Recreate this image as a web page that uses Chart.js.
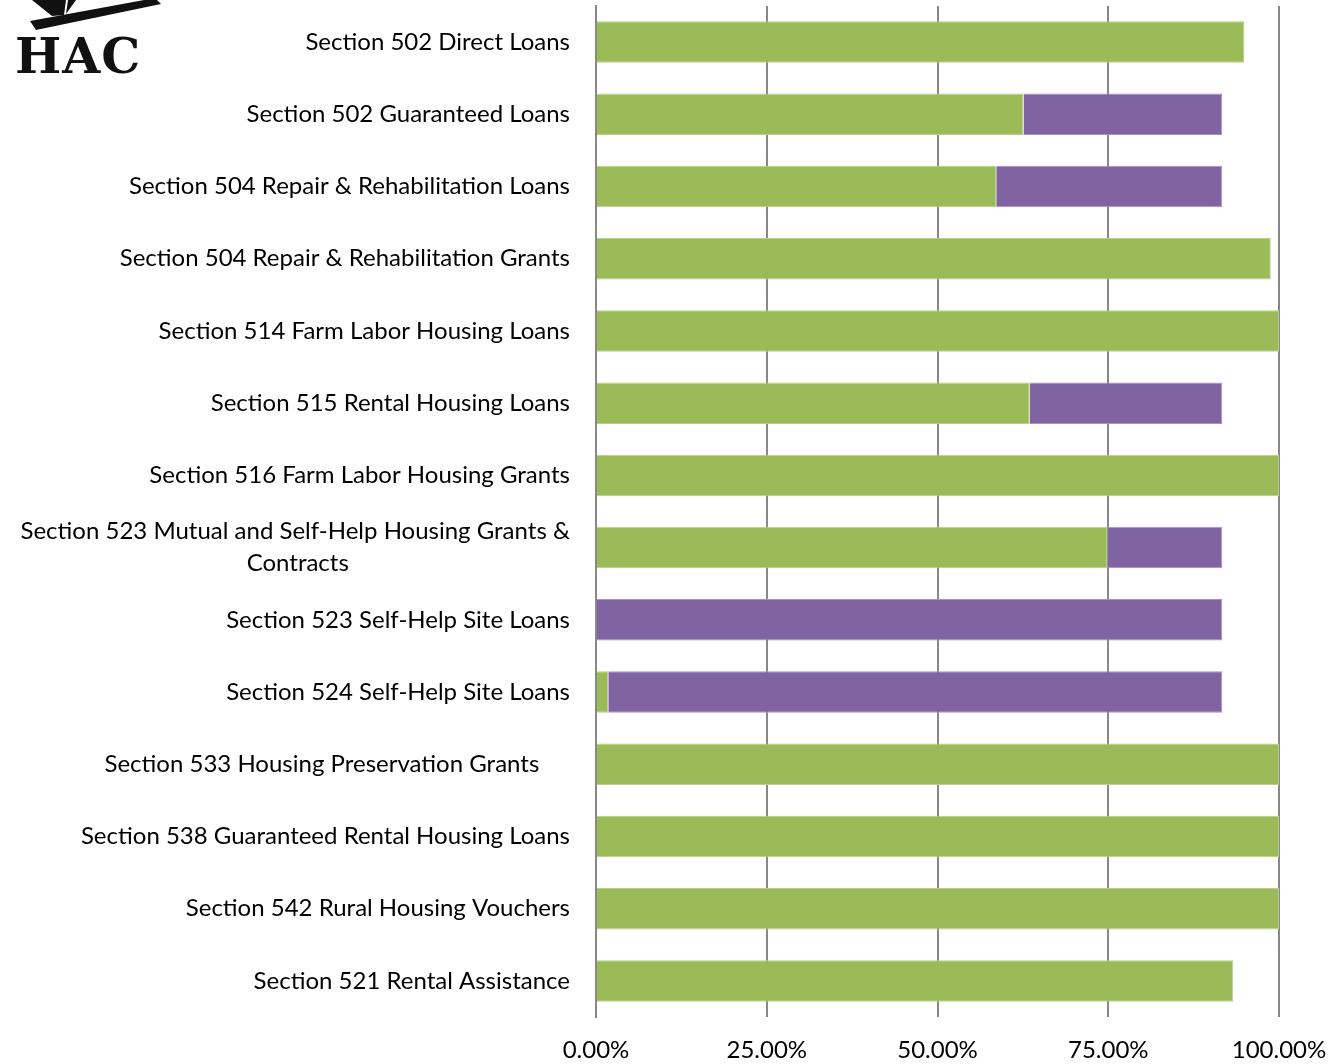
<!DOCTYPE html>
<html>
<head>
<meta charset="utf-8">
<script src="https://cdn.jsdelivr.net/npm/chart.js@4/dist/chart.umd.min.js"></script>
<style>
  html, body { margin: 0; padding: 0; background: #fff; }
  #wrap { position: relative; width: 1329px; height: 1064px; }
  #logo { position: absolute; left: 0; top: 0; width: 215px; height: 92px; }
  #logo span {
    position: absolute; left: 15px; top: 27px;
    font-family: "DejaVu Serif"; font-weight: bold; font-size: 49px; letter-spacing: 1px;
    color: #111;
  }
</style>
</head>
<body>
<div id="wrap">
  <canvas id="chart" width="1329" height="1064"></canvas>
  <div id="logo">
    <svg width="215" height="40" style="position:absolute;left:0;top:0">
      <path d="M30 21 L155 -2 L161 4 L36 30 Z" fill="#111"/>
      <path d="M32 0 L66 0 L64 15 L52 16 Z" fill="#111"/>
      <path d="M68 0 L76 0 L66 14 Z" fill="#111"/>
    </svg>
    <span>HAC</span>
  </div>
</div>
<script>
const categories = [
  'Section 502 Direct Loans',
  'Section 502 Guaranteed Loans',
  'Section 504 Repair & Rehabilitation Loans',
  'Section 504 Repair & Rehabilitation Grants',
  'Section 514 Farm Labor Housing Loans',
  'Section 515 Rental Housing Loans',
  'Section 516 Farm Labor Housing Grants',
  ['Section 523 Mutual and Self-Help Housing Grants &', 'Contracts'],
  'Section 523 Self-Help Site Loans',
  'Section 524 Self-Help Site Loans',
  'Section 533 Housing Preservation Grants',
  'Section 538 Guaranteed Rental Housing Loans',
  'Section 542 Rural Housing Vouchers',
  'Section 521 Rental Assistance'
]
const greenValues = [94.9, 62.6, 58.6, 98.8, 100, 63.5, 100, 74.9, 0, 1.8, 100, 100, 100, 93.3]
const purpleValues = [0, 29.1, 33.1, 0, 0, 28.2, 0, 16.8, 91.7, 89.9, 0, 0, 0, 0]
const xTicks = [0, 25, 50, 75, 100]

const labelFont = { family: 'Lato', size: 24 }

// pad labels with spaces so lines line up like the original
const mctx = document.createElement('canvas').getContext('2d')
mctx.font = labelFont.size + 'px ' + labelFont.family
const spaceW = mctx.measureText(' ').width
const padRight = (s, px) => s + ' '.repeat(Math.max(0, Math.round(px / spaceW)))
const shownLabels = categories.map(c => {
  if (Array.isArray(c)) {
    const w0 = mctx.measureText(c[0]).width
    const w1 = mctx.measureText(c[1]).width
    return [c[0], padRight(c[1], (w0 - w1) / 2)]
  }
  if (c.startsWith('Section 533')) return padRight(c, 30)
  return c
})

new Chart(document.getElementById('chart'), {
  type: 'bar',
  data: {
    labels: shownLabels,
    datasets: [
      {
        data: greenValues,
        backgroundColor: '#9bbb59',
        borderColor: '#b9d08a',
        borderWidth: 1,
        categoryPercentage: 1,
        barPercentage: 0.575
      },
      {
        data: purpleValues,
        backgroundColor: '#8064a2',
        borderColor: '#a791c0',
        borderWidth: 1,
        categoryPercentage: 1,
        barPercentage: 0.575
      }
    ]
  },
  options: {
    indexAxis: 'y',
    responsive: false,
    animation: false,
    layout: { padding: { top: 6, right: 50, left: 0, bottom: 0 } },
    plugins: { legend: { display: false }, tooltip: { enabled: false } },
    scales: {
      x: {
        stacked: true,
        min: 0,
        max: 100,
        afterBuildTicks: axis => { axis.ticks = xTicks.map(v => ({ value: v })) },
        grid: { color: '#888', lineWidth: 2, drawTicks: false },
        border: { display: false },
        ticks: {
          color: '#000',
          font: { family: labelFont.family, size: 24 },
          padding: 19,
          callback: v => v.toFixed(2) + '%'
        },
        afterFit: s => {
          s.height = 47
          s.paddingLeft = 0
          s.paddingRight = 0
        }
      },
      y: {
        stacked: true,
        grid: { display: false, drawTicks: false },
        border: { display: true, color: '#888', width: 2 },
        ticks: {
          color: '#000',
          font: { family: labelFont.family, size: labelFont.size, lineHeight: 1.33 },
          padding: 26,
          autoSkip: false
        },
        afterFit: s => {
          s.width = 596
          s.paddingTop = 0
          s.paddingBottom = 0
        }
      }
    }
  }
})
</script>
</body>
</html>
